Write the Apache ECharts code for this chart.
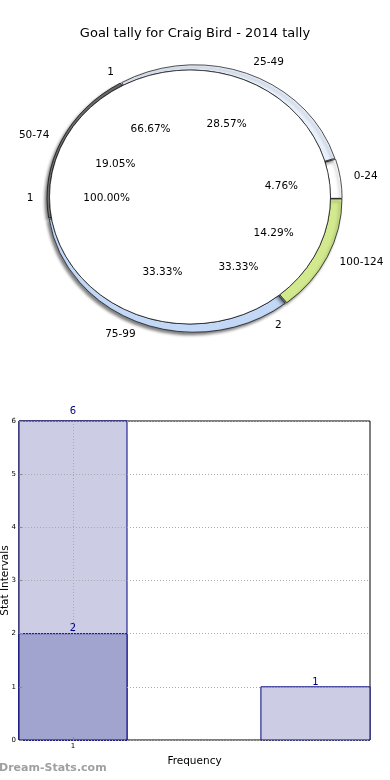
<!DOCTYPE html>
<html><head><meta charset="utf-8">
<script src="https://cdn.jsdelivr.net/npm/echarts@6/dist/echarts.min.js"></script>
<style>html,body{margin:0;padding:0;background:#fff}#c{width:390px;height:780px}</style>
</head><body><div id="c"></div>
<script>
// ---- data ----
const pieLabels = ['0-24', '25-49', '50-74', '75-99', '100-124'];
const pieValues = [1, 6, 4, 7, 3];
const pie2Labels = ['1', '2'];
const pie2Values = [2, 1];
const pie3Labels = ['1'];
const pie3Values = [1];

const barStarts = [0.5, 0.5, 2.74];
const barEnds = [1.5, 1.5, 3.75];
const barHeights = [6, 2, 1];
const yTickValues = [0, 1, 2, 3, 4, 5, 6];
const xTickValues = [1];

// ---- styles ----
const pieColors = ['#ffffff', '#e8f0fc', '#6e6e6e', '#c2d8f6', '#d2e98e'];
const barColors = ['#ccccE4', '#a2a4d0', '#ccccE4'];
const FONT = 'DejaVu Sans';
const OUTER = {cx: 194.5, cy: 198.5, rx: 146.4, ry: 132.7};
const INNER = {cx: 190, cy: 197, rx: 140.5, ry: 127};

function slices(values, labels) {
  const total = values.reduce((a, b) => a + b, 0);
  let acc = 0;
  return values.map((v, i) => {
    const s = acc / total; acc += v;
    return {name: labels[i], value: [s, acc / total, v / total * 100]};
  });
}

function sectorSeries(data, g, colors, explode, shadow, z) {
  return {
    type: 'custom', coordinateSystem: 'none', z: z, silent: true,
    data: data,
    renderItem: function (params, api) {
      const s = api.value(0) * 2 * Math.PI, e = api.value(1) * 2 * Math.PI;
      const mid = (s + e) / 2;
      const k = g.ry / g.rx;
      const style = {fill: colors[params.dataIndex % colors.length], stroke: '#000', lineWidth: 0.7, strokeNoScale: true};
      if (shadow) {
        style.shadowBlur = 3; style.shadowColor = 'rgba(0,0,0,0.5)';
        style.shadowOffsetX = -2; style.shadowOffsetY = 2.5;
      }
      return {
        type: 'sector',
        x: g.cx + explode * Math.cos(mid),
        y: g.cy - explode * Math.sin(mid) * k,
        scaleX: 1, scaleY: k,
        shape: {cx: 0, cy: 0, r0: 0, r: g.rx, startAngle: -e, endAngle: -s, clockwise: true},
        style: style
      };
    }
  };
}

function labelSeries(data, g) {
  return {
    type: 'custom', coordinateSystem: 'none', z: 10, silent: true,
    data: data,
    renderItem: function (params, api) {
      const s = api.value(0) * 2 * Math.PI, e = api.value(1) * 2 * Math.PI;
      const mid = (s + e) / 2;
      const c = Math.cos(mid), sn = Math.sin(mid);
      const name = data[params.dataIndex].name;
      return {
        type: 'group',
        children: [
          {type: 'text', x: g.cx + 1.1 * g.rx * c, y: g.cy - 1.1 * g.ry * sn,
           style: {text: name, fill: '#000', font: '10.5px "' + FONT + '"', align: c > 0 ? 'left' : 'right', verticalAlign: 'middle'}},
          {type: 'text', x: g.cx + 0.6 * g.rx * c, y: g.cy - 0.6 * g.ry * sn,
           style: {text: api.value(2).toFixed(2) + '%', fill: '#000', font: '10.5px "' + FONT + '"', align: 'center', verticalAlign: 'middle'}}
        ]
      };
    }
  };
}

const d1 = slices(pieValues, pieLabels);
const d2 = slices(pie2Values, pie2Labels);
const d3 = slices(pie3Values, pie3Labels);

const barData = barHeights.map((h, i) => [barStarts[i], barEnds[i], h]);

const chart = echarts.init(document.getElementById('c'), null, {renderer: 'canvas'});
chart.setOption({
  animation: false,
  backgroundColor: '#fff',
  title: {
    text: 'Goal tally for Craig Bird - 2014 tally', left: 'center', top: 22,
    textStyle: {fontFamily: FONT, fontSize: 13, fontWeight: 'normal', color: '#000'}
  },
  graphic: [{
    type: 'text', left: -1, top: 763, z: 100,
    style: {text: 'Dream-Stats.com', fill: '#a0a0a0', font: 'bold 11px "' + FONT + '"'}
  }],
  grid: {left: 19, right: 20, top: 421, bottom: 40, outerBoundsMode: 'none', containLabel: false,
         show: true, borderColor: '#000', borderWidth: 1, backgroundColor: 'transparent'},
  xAxis: {
    type: 'value', min: 0.5, max: 3.75, z: 10,
    name: 'Frequency', nameLocation: 'middle', nameGap: 16, nameMoveOverlap: false,
    nameTextStyle: {fontFamily: FONT, fontSize: 10.5, color: '#000'},
    axisLine: {show: false},
    axisTick: {show: true, inside: true, length: 3, customValues: xTickValues, lineStyle: {color: '#888'}},
    axisLabel: {customValues: xTickValues, fontFamily: FONT, fontSize: 7, color: '#000', margin: 3},
    splitLine: {show: true, lineStyle: {color: '#aaa', type: [1, 2], width: 1}}
  },
  yAxis: {
    type: 'value', min: 0, max: 6, interval: 1, z: 10,
    name: 'Stat Intervals', nameLocation: 'middle', nameGap: 8, nameMoveOverlap: false,
    nameTextStyle: {fontFamily: FONT, fontSize: 10.5, color: '#000'},
    axisLine: {show: false},
    axisTick: {show: true, inside: true, length: 3, lineStyle: {color: '#888'}},
    axisLabel: {fontFamily: FONT, fontSize: 7, color: '#000', margin: 3},
    splitLine: {show: true, lineStyle: {color: '#aaa', type: [1, 2], width: 1}}
  },
  series: [
    sectorSeries(d1, OUTER, pieColors, 1.2, true, 1),
    sectorSeries(d2, INNER, ['#ffffff'], 0, false, 2),
    sectorSeries(d3, INNER, ['#ffffff'], 0, false, 3),
    labelSeries(d1, OUTER),
    labelSeries(d2, OUTER),
    labelSeries(d3, OUTER),
    {
      type: 'custom', coordinateSystem: 'cartesian2d', z: 2, silent: true,
      data: barData,
      renderItem: function (params, api) {
        const p0 = api.coord([api.value(0), 0]);
        const p1 = api.coord([api.value(1), api.value(2)]);
        const mid = (api.value(0) + api.value(1)) / 2;
        const lp = api.coord([mid, api.value(2) * 1.02]);
        return {
          type: 'group',
          children: [
            {type: 'rect', shape: {x: p0[0], y: p1[1], width: p1[0] - p0[0], height: p0[1] - p1[1]},
             style: {fill: barColors[params.dataIndex], stroke: '#000080', lineWidth: 1}},
            {type: 'text', x: lp[0], y: lp[1] - 3, z2: 50,
             style: {text: String(api.value(2)), fill: '#000080', font: '10px "' + FONT + '"', align: 'center', verticalAlign: 'middle'}}
          ]
        };
      }
    }
  ]
});
</script></body></html>
